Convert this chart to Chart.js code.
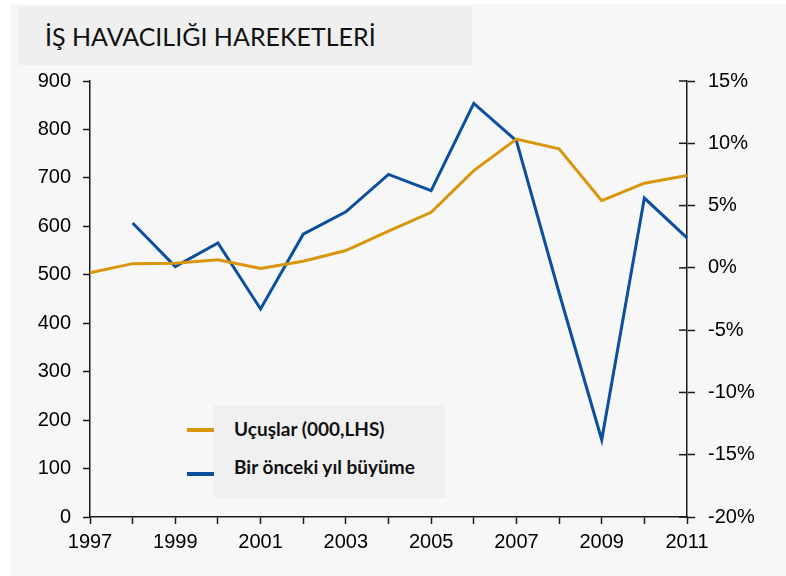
<!DOCTYPE html>
<html>
<head>
<meta charset="utf-8">
<script src="https://cdn.jsdelivr.net/npm/chart.js@4.4.0/dist/chart.umd.min.js"></script>
<style>
  html, body { margin: 0; padding: 0; background: #fff; }
  #wrap { position: relative; width: 786px; height: 576px; overflow: hidden; }
  #bg { position: absolute; left: 10px; top: 4px; right: 0; bottom: 0; background: #f7f7f7; }
  #title {
    position: absolute; left: 18px; top: 7px; width: 454px; height: 58px;
    background: #efefef;
  }
  #title span {
    position: absolute; left: 27px; top: 14px; white-space: nowrap;
    font-family: Lato, sans-serif; font-size: 25px; color: #111;
  }
  #legend {
    position: absolute; left: 214px; top: 405px; width: 231px; height: 93px;
    background: #f0f0f0; font-family: Lato, sans-serif; font-weight: bold; font-size: 19px; color: #111;
  }
  .item { position: absolute; left: 20px; white-space: nowrap; }
  .swatch { position: absolute; width: 27px; height: 4px; }
  canvas { position: absolute; left: 0; top: 0; }
</style>
</head>
<body>
<div id="wrap">
  <div id="bg"></div>
  <div id="title"><span>İŞ HAVACILIĞI HAREKETLERİ</span></div>
  <div id="legend"></div>
  <canvas id="chart" width="786" height="576"></canvas>
</div>
<script>
const years = ["1997", "1998", "1999", "2000", "2001", "2002", "2003", "2004",
  "2005", "2006", "2007", "2008", "2009", "2010", "2011"];
// Uçuşlar, thousands (left axis)
const flights = [504, 523, 524, 531, 513, 528, 550, 590, 629, 715, 780, 760, 653, 689, 705];
// growth vs previous year, % (right axis)
const growth = [null, 3.6, 0.1, 2.0, -3.3, 2.7, 4.5, 7.5, 6.2, 13.2, 10.2, -2.0, -13.8, 5.6, 2.4];
const seriesNames = ["Uçuşlar (000,LHS)", "Bir önceki yıl büyüme"];
const colors = ["#d9960c", "#0b4f9f"];

const axisColor = "#1a1a1a";
const tickFont = { family: "'Liberation Sans', Arial, sans-serif", size: 20 };

// right axis ticks cross the axis line, Chart.js only draws the outer half
const crossTicks = {
  id: "crossTicks",
  afterDraw(chart) {
    const s = chart.scales.y2;
    const ctx = chart.ctx;
    ctx.save();
    ctx.strokeStyle = axisColor;
    ctx.lineWidth = 1.5;
    s.ticks.forEach(t => {
      const y = s.getPixelForValue(t.value);
      ctx.beginPath();
      ctx.moveTo(s.left - 8, y);
      ctx.lineTo(s.left, y);
      ctx.stroke();
    });
    ctx.restore();
  }
};

const chart = new Chart(document.getElementById("chart"), {
  type: "line",
  data: {
    labels: years,
    datasets: [
      {
        label: seriesNames[0],
        data: flights,
        borderColor: colors[0],
        backgroundColor: colors[0],
        borderWidth: 3,
        pointRadius: 0,
        tension: 0,
        yAxisID: "y"
      },
      {
        label: seriesNames[1],
        data: growth,
        borderColor: colors[1],
        backgroundColor: colors[1],
        borderWidth: 3,
        pointRadius: 0,
        tension: 0,
        spanGaps: false,
        yAxisID: "y2"
      }
    ]
  },
  options: {
    responsive: false,
    animation: false,
    layout: { padding: { top: 81, left: 0, right: 0, bottom: 0 } },
    plugins: {
      legend: { display: false },
      title: { display: false },
      tooltip: { enabled: false }
    },
    scales: {
      x: {
        type: "category",
        offset: false,
        grid: { drawOnChartArea: false, tickLength: 7, tickColor: axisColor, tickWidth: 1.5 },
        border: { color: axisColor, width: 1.5 },
        ticks: {
          font: tickFont, color: "#000", padding: 6,
          autoSkip: false, maxRotation: 0,
          callback: function (v, i) { return i % 2 === 0 ? this.getLabelForValue(v) : ""; }
        },
        afterFit: s => { s.height = 59; }
      },
      y: {
        position: "left",
        min: 0, max: 900,
        grid: { drawOnChartArea: false, tickLength: 7, tickColor: axisColor, tickWidth: 1.5 },
        border: { color: axisColor, width: 1.5 },
        ticks: { stepSize: 100, font: tickFont, color: "#000", padding: 12 },
        afterFit: s => { s.width = 90; }
      },
      y2: {
        position: "right",
        min: -20, max: 15,
        grid: { drawOnChartArea: false, tickLength: 8, tickColor: axisColor, tickWidth: 1.5 },
        border: { color: axisColor, width: 1.5 },
        ticks: { stepSize: 5, font: tickFont, color: "#000", padding: 13, callback: v => v + "%" },
        afterFit: s => { s.width = 99; }
      }
    }
  },
  plugins: [crossTicks]
});

// legend drawn as html over the plot
const legend = document.getElementById("legend");
const rowTops = [12, 50];
const swatchTops = [11, 17];
chart.data.datasets.forEach((ds, i) => {
  const item = document.createElement("div");
  item.className = "item";
  item.style.top = rowTops[i] + "px";
  const sw = document.createElement("div");
  sw.className = "swatch";
  sw.style.background = ds.borderColor;
  sw.style.top = swatchTops[i] + "px";
  sw.style.left = "-47px";
  item.appendChild(sw);
  item.appendChild(document.createTextNode(ds.label));
  legend.appendChild(item);
});
</script>
</body>
</html>
